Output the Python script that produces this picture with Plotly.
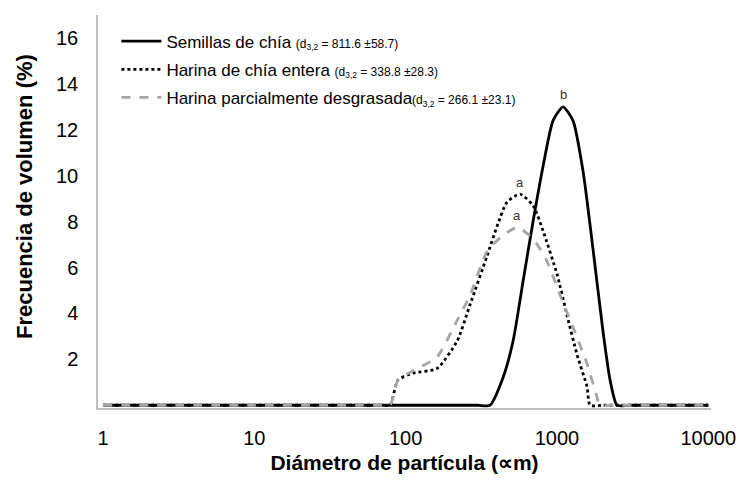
import math
import plotly.graph_objects as go

# Semillas de chía (solid)
semillas_x = [1, 10, 100, 300, 361, 440, 513, 597, 695, 809, 942, 1097, 1277, 1487, 1731, 2017, 2244, 2496, 3000, 5000, 10000]
semillas_y = [0, 0, 0, 0, 0, 1.2, 2.8, 5.4, 8.0, 10.4, 12.4, 13.0, 12.4, 10.2, 6.8, 3.2, 1.1, 0, 0, 0, 0]

# Harina de chía entera (dotted)
entera_x = [1, 10, 50, 70, 79, 89, 112, 161, 219, 267, 345, 402, 468, 570, 695, 809, 1002, 1167, 1358, 1581, 1655, 2000, 5000, 10000]
entera_y = [0, 0, 0, 0, 0, 1.1, 1.4, 1.6, 2.8, 4.4, 6.5, 7.8, 8.85, 9.2, 8.7, 7.6, 5.7, 3.9, 2.2, 0.8, 0, 0, 0, 0]

# Harina parcialmente desgrasada (dashed)
desgr_x = [1, 10, 50, 70, 79, 89, 112, 161, 219, 267, 345, 440, 546, 695, 856, 1049, 1277, 1581, 1841, 1918, 2300, 5000, 10000]
desgr_y = [0, 0, 0, 0, 0, 1.1, 1.5, 2.1, 3.7, 4.8, 6.7, 7.4, 7.75, 7.25, 6.3, 4.8, 3.4, 1.8, 0.35, 0, 0, 0, 0]

names = [
    "Semillas de chía <span style='font-size:12px'>(d<sub>3,2</sub> = 811.6 ±58.7)</span>",
    "Harina de chía entera <span style='font-size:12px'>(d<sub>3,2</sub> = 338.8 ±28.3)</span>",
    "Harina parcialmente desgrasada<span style='font-size:12px'>(d<sub>3,2</sub> = 266.1 ±23.1)</span>",
]

x_ticks = [1, 10, 100, 1000, 10000]
y_ticks = [2, 4, 6, 8, 10, 12, 14, 16]

x_title = "Diámetro de partícula (∝m)"
y_title = "Frecuencia de volumen (%)"

letters = ["b", "a", "a"]
letter_x = [1097, 570, 546]
letter_y = [13.0, 9.2, 7.75]

fig = go.Figure()
fig.add_trace(go.Scatter(x=semillas_x, y=semillas_y, mode="lines", name=names[0],
                         line=dict(color="black", width=2.8, shape="spline", smoothing=0.6),
                         legendgroup="g1"))
fig.add_trace(go.Scatter(x=entera_x, y=entera_y, mode="lines", name=names[1],
                         line=dict(color="black", width=2.8, dash="dot", shape="spline", smoothing=0.6),
                         legendgroup="g2"))
fig.add_trace(go.Scatter(x=desgr_x, y=desgr_y, mode="lines", name=names[2],
                         line=dict(color="#A6A6A6", width=2.8, dash="dash", shape="spline", smoothing=0.6),
                         legendgroup="g3"))

for t, xv, yv in zip(letters, letter_x, letter_y):
    fig.add_annotation(x=math.log10(xv), y=yv, xref="x", yref="y", text=t, showarrow=False,
                       yshift=12, font=dict(size=13, color="#333333"))

# y-axis title (placed as in the reference, slightly above the axis centre)
fig.add_annotation(x=-0.121, y=0.539, xref="paper", yref="paper", text="<b>" + y_title + "</b>",
                   textangle=-90, showarrow=False, xanchor="center", yanchor="middle",
                   font=dict(size=22, color="black"))

fig.update_layout(
    width=737, height=483,
    margin=dict(l=98, r=26, t=15, b=75, autoexpand=False),
    plot_bgcolor="white", paper_bgcolor="white",
    font=dict(family="Arial, Liberation Sans, sans-serif", color="black"),
    showlegend=True,
    legend=dict(x=0.03, y=0.978, xanchor="left", yanchor="top", bgcolor="rgba(0,0,0,0)",
                font=dict(size=17), tracegroupgap=3, itemwidth=40),
)
fig.update_xaxes(type="log", range=[-0.033, 4.018], tickvals=x_ticks,
                 ticktext=[str(v) for v in x_ticks], showgrid=False, zeroline=False,
                 showline=True, linecolor="#BFBFBF", linewidth=1.5, automargin=False,
                 ticks="", ticklabelstandoff=11, tickfont=dict(size=20),
                 title=dict(text="<b>" + x_title + "</b>", font=dict(size=21), standoff=8))
fig.update_yaxes(range=[-0.12, 17], tickvals=y_ticks, showgrid=False, zeroline=False,
                 showline=True, linecolor="#BFBFBF", linewidth=1.5, automargin=False,
                 ticks="", ticklabelstandoff=14, tickfont=dict(size=20))

fig.write_html("out.html", config={"displayModeBar": False},
               post_script="document.body.style.margin='0px';")
